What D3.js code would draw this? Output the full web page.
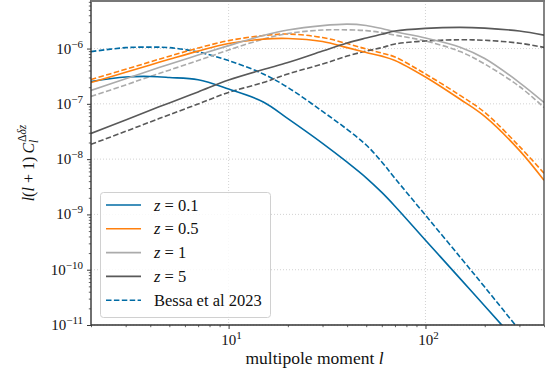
<!DOCTYPE html>
<html><head><meta charset="utf-8">
<script src="https://cdn.jsdelivr.net/npm/d3@7"></script>
<style>
html,body{margin:0;padding:0;background:#fff;}
svg{display:block;}
text{font-family:"Liberation Serif","DejaVu Serif",serif;}
</style></head>
<body><svg id="c" width="551" height="372"></svg>
<script>
// ---- data ----
const ell = [2,3,4,5,7,10,15,20,30,40,50,60,70,100,150,200,300,400];
const z01 = [2.54e-7,3.06e-7,3.13e-7,3.0e-7,2.72e-7,1.85e-7,1.08e-7,5.4e-8,1.93e-8,8.8e-9,4.6e-9,2.5e-9,1.41e-9,3.42e-10,6.9e-11,2.2e-11,4.4e-12,1.4e-12];
const z05 = [2.43e-7,3.73e-7,5.06e-7,6.38e-7,8.98e-7,1.23e-6,1.48e-6,1.52e-6,1.34e-6,1.04e-6,8.5e-7,7.3e-7,6.1e-7,3.06e-7,1.21e-7,5.93e-8,1.44e-8,4.14e-9];
const z1  = [1.75e-7,2.84e-7,4.01e-7,5.21e-7,7.63e-7,1.13e-6,1.72e-6,2.16e-6,2.60e-6,2.77e-6,2.62e-6,2.30e-6,2.01e-6,1.55e-6,1.06e-6,6.6e-7,2.43e-7,1.06e-7];
const z5  = [2.92e-8,5.1e-8,7.66e-8,1.04e-7,1.64e-7,2.69e-7,4.18e-7,5.58e-7,9.0e-7,1.26e-6,1.55e-6,1.81e-6,2.07e-6,2.32e-6,2.42e-6,2.34e-6,2.07e-6,1.75e-6];
const bessa01 = [8.8e-7,1.04e-6,1.06e-6,1.04e-6,8.65e-7,6.07e-7,3.47e-7,1.98e-7,7.3e-8,3.45e-8,1.8e-8,8.9e-9,4.5e-9,9.7e-10,1.69e-10,4.85e-11,8.1e-12,2.3e-12];
const bessa05 = [2.76e-7,4.22e-7,5.75e-7,7.26e-7,1.02e-6,1.39e-6,1.72e-6,1.83e-6,1.58e-6,1.23e-6,9.8e-7,8.3e-7,7.03e-7,3.47e-7,1.42e-7,7.0e-8,1.70e-8,5.55e-9];
const bessa1  = [1.36e-7,2.2e-7,3.13e-7,4.07e-7,6.07e-7,9.4e-7,1.48e-6,1.87e-6,2.16e-6,2.18e-6,2.11e-6,1.94e-6,1.75e-6,1.37e-6,8.83e-7,5.25e-7,2.06e-7,8.6e-8];
const bessa5  = [1.85e-8,3.18e-8,4.71e-8,6.35e-8,9.95e-8,1.61e-7,2.43e-7,3.47e-7,5.25e-7,7.32e-7,9.0e-7,1.04e-6,1.21e-6,1.37e-6,1.44e-6,1.41e-6,1.25e-6,1.05e-6];
const legendLabels = ["z = 0.1","z = 0.5","z = 1","z = 5","Bessa et al 2023"];
const xTickExps = [1,2];
const yTickExps = [-6,-7,-8,-9,-10,-11];

// ---- layout ----
const L=91, R=544, T=1, B=325;
const svg = d3.select("#c");
const x = d3.scaleLog().domain([2,400]).range([L,R]);
const y = d3.scaleLog().domain([1e-11, Math.pow(10,-5.14)]).range([B,T]);

const cBlue="#006BA4", cOrange="#FF800E", cLight="#ABABAB", cDark="#595959";

// grid
const g = svg.append("g");
xTickExps.forEach(e=>{
  g.append("line").attr("x1",x(Math.pow(10,e))).attr("x2",x(Math.pow(10,e)))
   .attr("y1",T).attr("y2",B).attr("stroke","#c8c8c8").attr("stroke-width",0.8).attr("stroke-dasharray","1,2");
});
yTickExps.forEach(e=>{
  g.append("line").attr("y1",y(Math.pow(10,e))).attr("y2",y(Math.pow(10,e)))
   .attr("x1",L).attr("x2",R).attr("stroke","#c8c8c8").attr("stroke-width",0.8).attr("stroke-dasharray","1,2");
});

// clip
svg.append("clipPath").attr("id","clip").append("rect").attr("x",L).attr("y",T).attr("width",R-L).attr("height",B-T);
const plot = svg.append("g").attr("clip-path","url(#clip)");
const line = d3.line().x(d=>x(d[0])).y(d=>y(d[1])).curve(d3.curveCatmullRom.alpha(0.5));
const series = [
  {v:bessa01,c:cBlue,dash:true},
  {v:bessa05,c:cOrange,dash:true},
  {v:bessa1,c:cLight,dash:true},
  {v:bessa5,c:cDark,dash:true},
  {v:z01,c:cBlue,dash:false},
  {v:z05,c:cOrange,dash:false},
  {v:z1,c:cLight,dash:false},
  {v:z5,c:cDark,dash:false}
];
series.forEach(s=>{
  plot.append("path").datum(ell.map((l,i)=>[l,s.v[i]]))
    .attr("d",line).attr("fill","none").attr("stroke",s.c).attr("stroke-width",1.6)
    .attr("stroke-dasharray",s.dash?"5.5,2.4":null);
});

// axes
const xAxis = d3.axisBottom(x).tickValues(xTickExps.map(e=>Math.pow(10,e))).tickFormat("").tickSize(4);
const yAxis = d3.axisLeft(y).tickValues(yTickExps.map(e=>Math.pow(10,e))).tickFormat("").tickSize(4);
const xMinor=[],yMinor=[];
[1,10,100].forEach(d=>{for(let k=2;k<=9;k++){const v=d*k; if(v>=2&&v<=400&&v!==10&&v!==100) xMinor.push(v);}});
yTickExps.forEach(e=>{for(let k=2;k<=9;k++){const v=k*Math.pow(10,e); if(v<=Math.pow(10,-5.14)) yMinor.push(v);}});
svg.append("g").attr("transform",`translate(0,${B})`).call(d3.axisBottom(x).tickValues(xMinor).tickFormat("").tickSize(2.2)).call(a=>a.select(".domain").remove()).selectAll("line").attr("stroke","#222").attr("stroke-width",0.7);
svg.append("g").attr("transform",`translate(${L},0)`).call(d3.axisLeft(y).tickValues(yMinor).tickFormat("").tickSize(2.2)).call(a=>a.select(".domain").remove()).selectAll("line").attr("stroke","#222").attr("stroke-width",0.7);
const xa = svg.append("g").attr("transform",`translate(0,${B})`).call(xAxis);
const ya = svg.append("g").attr("transform",`translate(${L},0)`).call(yAxis);
[xa,ya].forEach(a=>{a.select(".domain").remove(); a.selectAll("line").attr("stroke","#222").attr("stroke-width",0.9);});

// spines
svg.append("line").attr("x1",L).attr("x2",R).attr("y1",B).attr("y2",B).attr("stroke","#333").attr("stroke-width",1.4);
svg.append("line").attr("x1",L).attr("x2",L).attr("y1",T-1).attr("y2",B).attr("stroke","#333").attr("stroke-width",1.4);
svg.append("line").attr("x1",R).attr("x2",R).attr("y1",T-1).attr("y2",B).attr("stroke","#333").attr("stroke-width",1.2);
svg.append("line").attr("x1",L).attr("x2",R+1).attr("y1",1).attr("y2",1).attr("stroke","#777").attr("stroke-width",2);

// tick labels
yTickExps.forEach(e=>{
  const t = svg.append("text").attr("x",83).attr("y",y(Math.pow(10,e))+5).attr("text-anchor","end")
    .attr("font-size",15).attr("fill","#111");
  t.append("tspan").text("10");
  t.append("tspan").attr("dy",-6).attr("font-size",11).text("\u2212"+Math.abs(e));
});
xTickExps.forEach(e=>{
  const t = svg.append("text").attr("x",x(Math.pow(10,e))+3).attr("y",345).attr("text-anchor","middle")
    .attr("font-size",15).attr("fill","#111");
  t.append("tspan").text("10");
  t.append("tspan").attr("dy",-6).attr("font-size",11).text(e);
});

// axis labels
const xl = svg.append("text").attr("x",(L+R)/2-3).attr("y",364).attr("text-anchor","middle").attr("font-size",17.5).attr("fill","#111");
xl.append("tspan").text("multipole moment ");
xl.append("tspan").attr("font-style","italic").text("l");

const yg = svg.append("g");
const ym = yg.append("text").attr("x",0).attr("y",0).attr("font-size",16).attr("fill","#111");
ym.append("tspan").attr("font-style","italic").text("l");
ym.append("tspan").text("(");
ym.append("tspan").attr("font-style","italic").text("l");
ym.append("tspan").text(" + 1)\u2009");
ym.append("tspan").attr("font-style","italic").text("C");
const w0 = ym.node().getComputedTextLength();
yg.append("text").attr("x",w0).attr("y",4).attr("font-size",11.5).attr("font-style","italic").attr("fill","#111").text("l");
const sup = yg.append("text").attr("x",w0+1).attr("y",-8).attr("font-size",11.5).attr("fill","#111");
sup.append("tspan").text("\u0394");
sup.append("tspan").attr("font-style","italic").text("\u03B4z");
const wtot = w0 + 1 + sup.node().getComputedTextLength();
yg.attr("transform",`translate(34,${(T+B)/2}) rotate(-90) translate(${-wtot/2},0)`);

// legend
const lg = svg.append("g");
lg.append("rect").attr("x",100.5).attr("y",192.5).attr("width",170).attr("height",125).attr("rx",3)
  .attr("fill","#fff").attr("fill-opacity",0.85).attr("stroke","#d0d0d0").attr("stroke-width",1);
const legColors=[cBlue,cOrange,cLight,cDark,cBlue];
legendLabels.forEach((lab,i)=>{
  const yy = 205 + i*23.8;
  lg.append("line").attr("x1",106).attr("x2",141).attr("y1",yy).attr("y2",yy)
    .attr("stroke",legColors[i]).attr("stroke-width",1.6).attr("stroke-dasharray",i===4?"5.5,2.4":null);
  const t = lg.append("text").attr("x",154).attr("y",yy+5.5).attr("font-size",16.5).attr("fill","#111");
  if(i<4){
    const parts = lab.split(" = ");
    t.append("tspan").attr("font-style","italic").text(parts[0]);
    t.append("tspan").text(" = "+parts[1]);
  } else t.text(lab);
});
</script></body></html>
